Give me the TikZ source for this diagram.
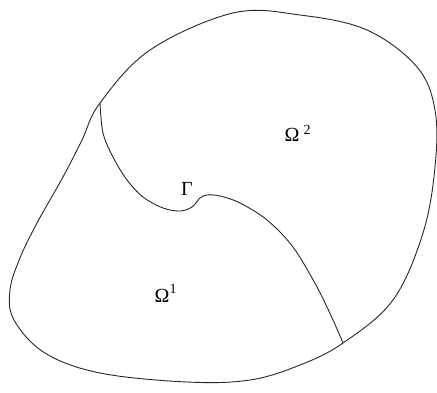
\documentclass[tikz,border=0pt]{standalone}
\usepackage{fontspec}
\setmainfont{Liberation Serif}
\begin{document}
\begin{tikzpicture}[x=1pt,y=-1pt,
  curve/.style={line width=0.9pt, draw=black!85},
  lab/.style={font=\fontsize{20}{22}\selectfont, inner sep=0pt},
  sup/.style={font=\fontsize{14}{16}\selectfont, inner sep=0pt}]
\useasboundingbox (0,0) rectangle (437,392);
\coordinate (A) at (100,103);
\coordinate (B) at (343,343);
\draw[curve] plot[smooth cycle, tension=0.6] coordinates {
  (100,103) (150,50) (233,13) (300,15) (367,30) (417,67) (435,110) (435,167)
  (423,233) (393,300) (343,343) (300,365) (250,380) (187,382) (100,373)
  (45,353) (14,320) (10,290) (20,258) (37,223) (63,177) (82,140)};
\draw[curve] plot[smooth, tension=0.55] coordinates {
  (A) (103,133) (113,157) (127,180) (143,197) (163,208) (180,211) (192,207)
  (200,198) (207,195) (220,196) (240,203) (267,220) (293,247) (317,287)
  (333,320) (B)};
\node[lab] (o2) at (292,135) {Ω};
\node[sup] (s2) at (307,130) {2};
\node[lab] (g) at (187,189) {Γ};
\node[lab] (o1) at (162,296) {Ω};
\node[sup] (s1) at (173,289) {1};
\end{tikzpicture}
\end{document}
